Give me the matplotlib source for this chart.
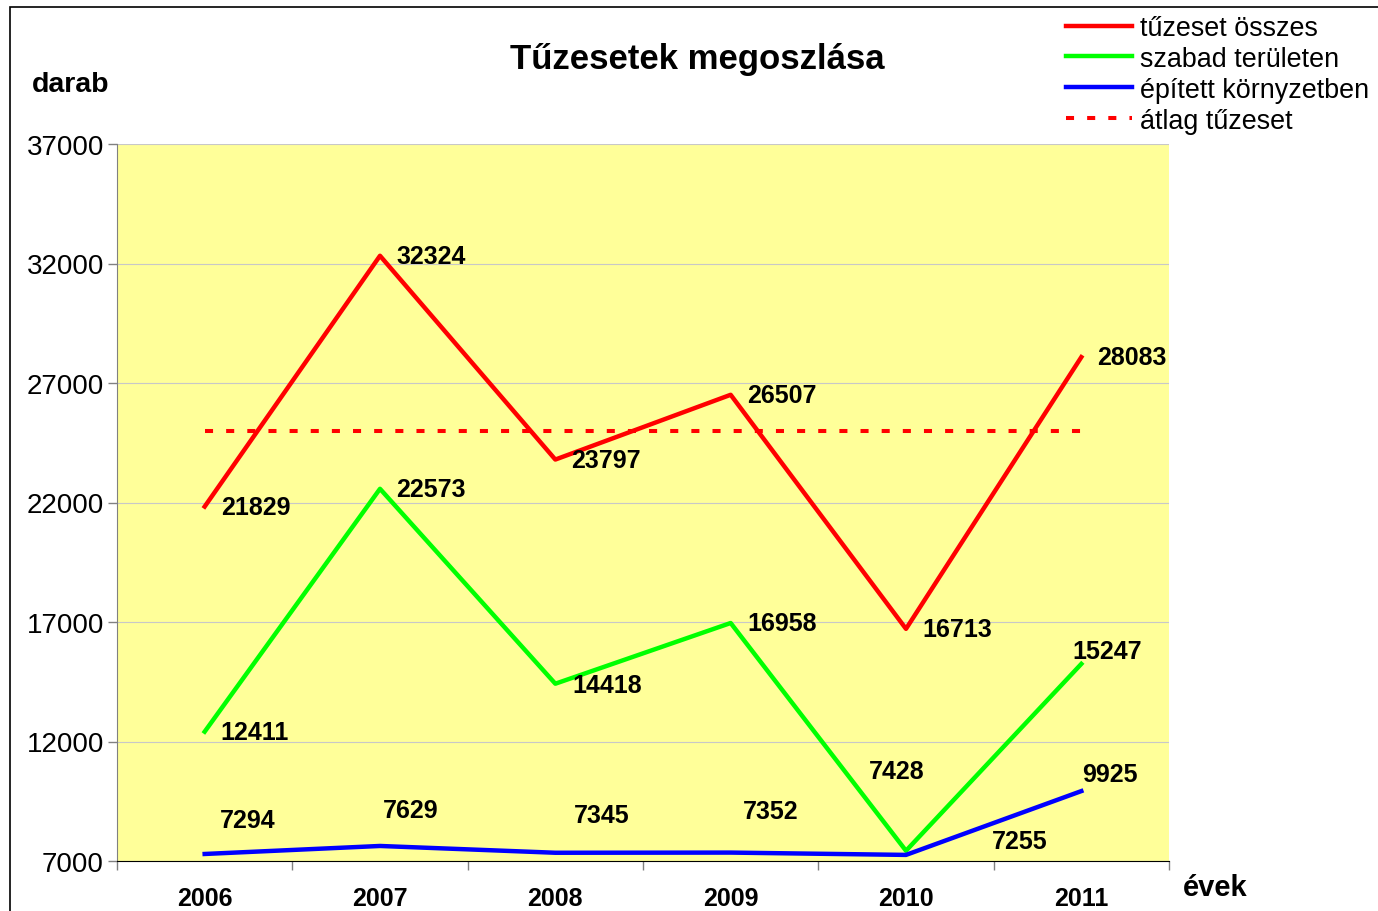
import matplotlib.pyplot as plt
from matplotlib.patches import Rectangle
from matplotlib.ticker import FixedLocator, NullFormatter
import numpy as np

plt.rcParams['font.family'] = ['Liberation Sans', 'DejaVu Sans']

# data
evek = ['2006', '2007', '2008', '2009', '2010', '2011']
tuzeset_osszes = [21829, 32324, 23797, 26507, 16713, 28083]
szabad_teruleten = [12411, 22573, 14418, 16958, 7428, 15247]
epitett_kornyezetben = [7294, 7629, 7345, 7352, 7255, 9925]
atlag_tuzeset = 25000

# label offsets in pixels (dx, dy, ha)
off_osszes = [(16, 0, 'left')] * 6
off_szabad = [(16, 0, 'left'), (16, 0, 'left'), (17, -1, 'left'),
              (17, 0, 'left'), (-9, 80, 'center'), (26, 13, 'center')]
off_epitett = [(43, 34, 'center'), (31, 36, 'center'), (46, 38, 'center'),
               (40, 42, 'center'), (114, 14, 'center'), (29, 17, 'center')]

W, H = 1378, 912
fig = plt.figure(figsize=(W / 100, H / 100), dpi=100)
ax = fig.add_axes([117 / W, 1 - 862 / H, (1169 - 117) / W, (862 - 145) / H])
ax.set_facecolor('#FFFF99')

x = np.arange(len(evek))
l1, = ax.plot(x, tuzeset_osszes, color='#FF0000', lw=3.2, zorder=3)
l2, = ax.plot(x, szabad_teruleten, color='#00FF00', lw=3.2, zorder=3)
l3, = ax.plot(x, epitett_kornyezetben, color='#0000FF', lw=3.2, zorder=3)
l4, = ax.plot([x[0], x[-1]], [atlag_tuzeset] * 2, color='#FF0000', lw=2.9,
              dashes=(2.0, 3.25), dash_capstyle='butt', zorder=3)

for vals, offs in [(tuzeset_osszes, off_osszes), (szabad_teruleten, off_szabad),
                   (epitett_kornyezetben, off_epitett)]:
    for xi, v, (dx, dy, ha) in zip(x, vals, offs):
        ax.annotate(str(v), (xi, v), xytext=(dx, dy), textcoords='offset pixels',
                    ha=ha, va='center', fontsize=18, fontweight='bold', zorder=4)

ax.set_xlim(-0.5, len(evek) - 0.5)
ax.set_ylim(7000, 37000)
ax.set_yticks(np.arange(7000, 37001, 5000))
ax.tick_params(axis='y', labelsize=20, length=6.5, width=1, pad=3, color='#808080')
ax.yaxis.grid(True, color='#C8C8C8', lw=0.8)
ax.set_axisbelow(True)

ax.xaxis.set_major_locator(FixedLocator(np.arange(-0.5, len(evek), 1.0)))
ax.xaxis.set_major_formatter(NullFormatter())
ax.xaxis.set_minor_locator(FixedLocator(x))
ax.set_xticklabels(evek, minor=True)
ax.tick_params(axis='x', which='major', length=6.5, width=1, color='#808080')
ax.tick_params(axis='x', which='minor', length=0, pad=18, labelsize=18)
for t in ax.get_xticklabels(minor=True):
    t.set_fontweight('bold')

for s in ['top', 'right']:
    ax.spines[s].set_visible(False)
ax.spines['left'].set_color('#808080')
ax.spines['bottom'].set_color('black')

fig.text(697 / W, 1 - 60 / H, 'Tűzesetek megoszlása', ha='center', va='center',
         fontsize=25, fontweight='bold')
fig.text(32 / W, 1 - 85 / H, 'darab', ha='left', va='center', fontsize=20.5, fontweight='bold')
fig.text(1183 / W, 1 - 888 / H, 'évek', ha='left', va='center', fontsize=21, fontweight='bold')

fig.legend([l1, l2, l3, l4],
           ['tűzeset összes', 'szabad területen', 'épített környzetben', 'átlag tűzeset'],
           loc='upper left', bbox_to_anchor=(1066 / W, 1 - 16 / H), frameon=False,
           fontsize=19.4, handlelength=2.45, handletextpad=0.28, labelspacing=0.18,
           borderpad=0, borderaxespad=0)

fig.patches.append(Rectangle((10 / W, -0.1), 1.2, 1.1 - 8 / H, transform=fig.transFigure,
                             fill=False, edgecolor='black', lw=1.2))

fig.savefig('out.png', dpi=100)
